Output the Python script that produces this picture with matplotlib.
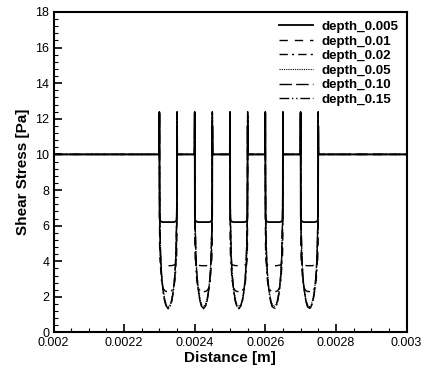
import numpy as np
import matplotlib.pyplot as plt
from matplotlib.ticker import MultipleLocator

plt.rcParams['font.family'] = ['Liberation Sans', 'DejaVu Sans']

# groove geometry (m) and stress away from the grooves (Pa)
groove_starts = [0.0023, 0.0024, 0.0025, 0.0026, 0.0027]
groove_width = 0.00005
flat_stress = 10.0

# sample positions across one groove (fraction of groove width)
frac = [-0.01, 0.0, 0.01, 0.03, 0.07, 0.12, 0.2, 0.3, 0.4, 0.5,
        0.6, 0.7, 0.8, 0.88, 0.93, 0.97, 0.99, 1.0, 1.01]

labels = ['depth_0.005', 'depth_0.01', 'depth_0.02',
          'depth_0.05', 'depth_0.10', 'depth_0.15']

# shear stress read across one groove, per depth
d005 = [10, 12.35, 6.5, 6.3, 6.25, 6.22, 6.2, 6.2, 6.2, 6.2,
        6.2, 6.2, 6.2, 6.22, 6.25, 6.3, 6.5, 11.6, 10]
d01 = [10, 12.3, 5.0, 4.1, 3.85, 3.8, 3.78, 3.76, 3.75, 3.75,
       3.75, 3.76, 3.78, 3.8, 3.85, 4.1, 5.0, 11.9, 10]
d02 = [10, 12.3, 7.0, 5.0, 3.6, 2.9, 2.5, 2.35, 2.3, 2.3,
       2.3, 2.35, 2.5, 2.9, 3.6, 5.0, 7.0, 12.2, 10]
d05 = [10, 12.35, 8.5, 6.2, 4.5, 3.4, 2.5, 1.9, 1.55, 1.45,
       1.55, 1.9, 2.5, 3.4, 4.5, 6.2, 8.5, 12.35, 10]
d10 = [10, 12.35, 8.3, 6.0, 4.3, 3.3, 2.4, 1.8, 1.45, 1.36,
       1.45, 1.8, 2.4, 3.3, 4.3, 6.0, 8.3, 12.35, 10]
d15 = [10, 12.4, 8.2, 5.9, 4.2, 3.2, 2.35, 1.75, 1.42, 1.33,
       1.42, 1.75, 2.35, 3.2, 4.2, 5.9, 8.2, 12.4, 10]

profiles = [d005, d01, d02, d05, d10, d15]
styles = ['-', (0, (6, 5)), (0, (6, 3, 1.5, 3)), (0, (1, 1)),
          (0, (9, 3)), (0, (7, 2, 1, 2, 1, 2))]
widths = [1.3, 1.0, 1.0, 0.8, 1.0, 1.0]


def build(profile):
    xs = [0.002]
    ys = [flat_stress]
    for s in groove_starts:
        for f, v in zip(frac, profile):
            xs.append(s + f * groove_width)
            ys.append(v)
    xs.append(0.003)
    ys.append(flat_stress)
    return np.array(xs), np.array(ys)


fig = plt.figure(figsize=(4.27, 3.68), dpi=100)
ax = fig.add_axes([0.1253, 0.0965, 0.8267, 0.871])

for prof, lab, ls, lw in zip(profiles, labels, styles, widths):
    x, y = build(prof)
    ax.plot(x, y, color='black', linestyle=ls, linewidth=lw, label=lab)

ax.set_xlim(0.002, 0.003)
ax.set_ylim(0, 18)
ax.xaxis.set_minor_locator(MultipleLocator(0.00005))
ax.yaxis.set_major_locator(MultipleLocator(2))
ax.yaxis.set_minor_locator(MultipleLocator(0.4))
ax.set_xticks([0.002, 0.0022, 0.0024, 0.0026, 0.0028, 0.003])
ax.set_xticklabels(['0.002', '0.0022', '0.0024', '0.0026', '0.0028', '0.003'])
ax.tick_params(which='major', direction='in', length=6, width=1.2,
               labelsize=9, pad=3)
ax.tick_params(which='minor', direction='in', length=3, width=0.8)
for sp in ax.spines.values():
    sp.set_linewidth(1.5)

ax.set_xlabel('Distance [m]', fontsize=11, fontweight='bold', labelpad=2)
ax.set_ylabel('Shear Stress [Pa]', fontsize=11, fontweight='bold', labelpad=4)

ax.legend(loc='upper right', bbox_to_anchor=(0.976, 0.973), frameon=False,
          prop={'weight': 'bold', 'size': 9.6},
          handlelength=2.55, handletextpad=0.6, labelspacing=0.17,
          borderaxespad=0, borderpad=0)

fig.savefig('out.png', dpi=100)
